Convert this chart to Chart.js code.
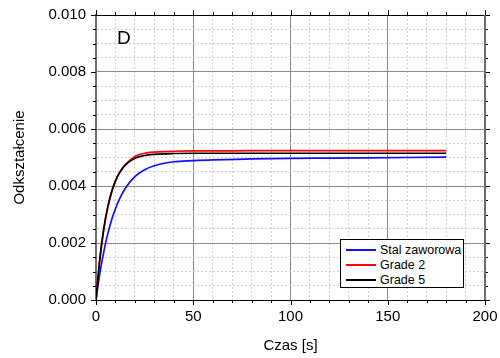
<!DOCTYPE html>
<html>
<head>
<meta charset="utf-8">
<script src="https://cdn.jsdelivr.net/npm/chart.js@4/dist/chart.umd.min.js"></script>
<style>
  body { margin: 0; background: #fff; font-family: "Liberation Sans", Arial, sans-serif; }
  #wrap { position: relative; width: 500px; height: 358px; }
  #panel { position: absolute; left: 117px; top: 27px; font-size: 19px; color: #000; }
  #legend { position: absolute; left: 340px; top: 239px; width: 124px; height: 49px;
            border: 1px solid #000; background: #fff; box-sizing: border-box; padding-top: 2px; }
  .row { height: 15px; display: flex; align-items: center; font-size: 12.5px; }
  .row span.sw { display: inline-block; width: 30px; height: 0; margin: 0 4px 0 5px; }
</style>
</head>
<body>
<div id="wrap">
  <canvas id="chart" width="500" height="358"></canvas>
  <div id="panel">D</div>
  <div id="legend"></div>
</div>
<script>
// ----------------- DATA -----------------
const time = [0, 2, 4, 6, 8, 10, 12, 15, 20, 25, 30, 40, 50, 60, 80, 100, 120, 140, 160, 180];
const stalZaworowa = [0, 0.00094, 0.00169, 0.00231, 0.00281, 0.00320, 0.00353, 0.00391, 0.00433, 0.00457,
                      0.00471, 0.00485, 0.00489, 0.00492, 0.00495, 0.00497, 0.00498, 0.00499, 0.00500, 0.00501];
const grade2 = [0, 0.00143, 0.00247, 0.00323, 0.00378, 0.00417, 0.00446, 0.00474, 0.00504, 0.00515,
                0.00519, 0.00522, 0.00523, 0.00523, 0.00524, 0.00524, 0.00524, 0.00524, 0.00524, 0.00524];
const grade5 = [0, 0.00146, 0.00251, 0.00325, 0.00379, 0.00418, 0.00445, 0.00473, 0.00497, 0.00507,
                0.00511, 0.00514, 0.00515, 0.00515, 0.00515, 0.00515, 0.00515, 0.00515, 0.00515, 0.00515];

const seriesNames = ["Stal zaworowa", "Grade 2", "Grade 5"];
const seriesColors = ["#1010ff", "#ff0000", "#000000"];
const seriesData = [stalZaworowa, grade2, grade5];
const seriesOrder = [2, 1, 0];

const xMin = 0, xMax = 200, xMinorStep = 10, xMajorEvery = 5;
const yMin = 0, yMax = 0.010, yMinorStep = 0.0005, yMajorEvery = 4;

const font = "'Liberation Sans', Arial, sans-serif";

// ----------------- PLUGINS -----------------
// tick marks on all four sides + top/right frame lines
const frameTicks = {
  id: "frameTicks",
  afterDraw(c) {
    const { ctx, chartArea: a, scales } = c;
    ctx.save();
    ctx.strokeStyle = "#000";
    ctx.lineWidth = 1;
    scales.x.ticks.forEach((t, i) => {
      const px = Math.round(scales.x.getPixelForValue(t.value)) + 0.5;
      const len = i % xMajorEvery === 0 ? 5 : 3;
      ctx.beginPath();
      ctx.moveTo(px, a.bottom); ctx.lineTo(px, a.bottom + len);
      ctx.moveTo(px, a.top); ctx.lineTo(px, a.top - len);
      ctx.stroke();
    });
    scales.y.ticks.forEach((t, i) => {
      const py = Math.round(scales.y.getPixelForValue(t.value)) + 0.5;
      const len = i % yMajorEvery === 0 ? 5 : 3;
      ctx.beginPath();
      ctx.moveTo(a.left, py); ctx.lineTo(a.left - len, py);
      ctx.moveTo(a.right, py); ctx.lineTo(a.right + len, py);
      ctx.stroke();
    });
    // top frame
    ctx.beginPath();
    ctx.moveTo(a.left, a.top + 0.5); ctx.lineTo(a.right, a.top + 0.5);
    ctx.stroke();
    // right frame
    ctx.strokeStyle = "#6e6e6e";
    ctx.lineWidth = 2;
    ctx.beginPath();
    ctx.moveTo(a.right, a.top); ctx.lineTo(a.right, a.bottom);
    ctx.stroke();
    ctx.restore();
  }
};

// ----------------- CHART -----------------
const ctx = document.getElementById("chart").getContext("2d");
const chart = new Chart(ctx, {
  type: "line",
  data: {
    datasets: seriesNames.map((name, k) => ({
      label: name,
      data: time.map((t, i) => ({ x: t, y: seriesData[k][i] })),
      borderColor: seriesColors[k],
      backgroundColor: seriesColors[k],
      borderWidth: 1.7,
      pointRadius: 0,
      cubicInterpolationMode: "monotone",
      fill: false,
      order: seriesOrder[k],
    }))
  },
  options: {
    responsive: false,
    animation: false,
    layout: { padding: { left: 0, top: 15, right: 15, bottom: 0 } },
    plugins: { legend: { display: false }, tooltip: { enabled: false } },
    scales: {
      x: {
        type: "linear",
        min: xMin, max: xMax,
        // fixed axis box, no extra padding for edge labels
        afterFit: s => { s.height = 58; s.paddingLeft = 0; s.paddingRight = 0; },
        ticks: {
          stepSize: xMinorStep, autoSkip: false, maxRotation: 0, padding: 8,
          color: "#000", font: { family: font, size: 15 },
          callback: (v, i) => (i % xMajorEvery === 0 ? v : ""),
        },
        grid: {
          drawTicks: false,
          color: c => (c.index % xMajorEvery === 0 ? "#8a8a8a" : "#cfcfcf"),
          lineWidth: 1,
        },
        border: {
          color: "#000", width: 1,
          dash: c => (c.index !== undefined && c.index % xMajorEvery !== 0 ? [2, 2] : []),
        },
        title: { display: true, text: "Czas [s]", color: "#000", font: { family: font, size: 15 }, padding: 3 },
      },
      y: {
        min: yMin, max: yMax,
        afterFit: s => { s.width = 96; s.paddingTop = 0; s.paddingBottom = 0; },
        ticks: {
          stepSize: yMinorStep, autoSkip: false, padding: 10,
          color: "#000", font: { family: font, size: 15 },
          callback: (v, i) => (i % yMajorEvery === 0 ? v.toFixed(3) : ""),
        },
        grid: {
          drawTicks: false,
          color: c => (c.index % yMajorEvery === 0 ? "#8a8a8a" : "#cfcfcf"),
          lineWidth: 1,
        },
        border: {
          color: "#6e6e6e", width: 2,
          dash: c => (c.index !== undefined && c.index % yMajorEvery !== 0 ? [2, 2] : []),
        },
        title: { display: true, text: "Odkształcenie", color: "#000", font: { family: font, size: 15 }, padding: 11 },
      },
    },
  },
  plugins: [frameTicks],
});

// ----------------- LEGEND -----------------
const legend = document.getElementById("legend");
seriesNames.forEach((name, k) => {
  const row = document.createElement("div");
  row.className = "row";
  const sw = document.createElement("span");
  sw.className = "sw";
  sw.style.borderTop = "2px solid " + seriesColors[k];
  row.appendChild(sw);
  row.appendChild(document.createTextNode(name));
  legend.appendChild(row);
});
</script>
</body>
</html>
